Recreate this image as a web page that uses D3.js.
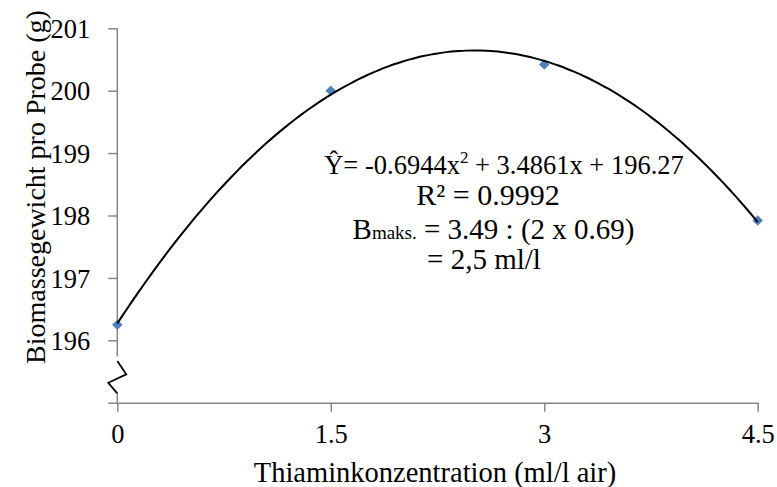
<!DOCTYPE html>
<html>
<head>
<meta charset="utf-8">
<script src="https://cdn.jsdelivr.net/npm/d3@7"></script>
<style>
  body { margin: 0; background: #fff; }
  svg text { font-family: "Liberation Serif", "Times New Roman", Times, serif; fill: #000; }
</style>
</head>
<body>
<div id="chart"></div>
<script>
// observed values
const konzentration = [0, 1.5, 3, 4.5]
const biomasse = [196.25, 200.0, 200.42, 197.92]
const xTicks = [0, 1.5, 3, 4.5]
const yTicks = [195, 196, 197, 198, 199, 200, 201]
// trendline coefficients from the equation (a x^2 + b x + c)
const koef = [-0.6944, 3.4861, 196.27]
const trendX = d3.range(0, 4.5001, 0.05)
// axis break (in y units)
const bruch = [195.67, 195.455, 195.32, 195.15]

const W = 777, H = 487
const serif = '"Liberation Serif", "Times New Roman", Times, serif'
const svg = d3.select("#chart").append("svg")
  .attr("width", W).attr("height", H)
  .attr("font-family", serif)

const x = d3.scaleLinear().domain([0, 4.5]).range([117.3, 757.7])
const y = d3.scaleLinear().domain([195, 201]).range([402.7, 28.3])

const grau = "#868686"

// y axis ticks + labels
const yAxis = svg.append("g")
  .attr("transform", `translate(${x(0)},0)`)
  .call(d3.axisLeft(y).tickValues(yTicks).tickSize(9).tickSizeOuter(0)
    .tickFormat(d => d == 195 ? "" : d))
yAxis.attr("font-family", serif).attr("font-size", 26.5)
yAxis.select(".domain").remove()
yAxis.selectAll(".tick line").attr("stroke", grau).attr("stroke-width", 1.5)
yAxis.selectAll(".tick text")
  .attr("x", -27).attr("dy", "0.35em")

// x axis
const xAxis = svg.append("g")
  .attr("transform", `translate(0,${y(195)})`)
  .call(d3.axisBottom(x).tickValues(xTicks).tickSize(9).tickSizeOuter(0)
    .tickFormat(d => d))
xAxis.attr("font-family", serif).attr("font-size", 26.5)
xAxis.select(".domain").attr("stroke", grau).attr("stroke-width", 1.5)
xAxis.selectAll(".tick line").attr("stroke", grau).attr("stroke-width", 1.5)
xAxis.selectAll(".tick text")
  .attr("y", 21).attr("dy", "0.71em")

// y axis line, broken
svg.append("line")
  .attr("x1", x(0)).attr("x2", x(0))
  .attr("y1", y(201)).attr("y2", y(195.74))
  .attr("stroke", grau).attr("stroke-width", 1.5)
svg.append("line")
  .attr("x1", x(0)).attr("x2", x(0))
  .attr("y1", y(bruch[3])).attr("y2", y(195))
  .attr("stroke", grau).attr("stroke-width", 1.5)
const off = [0, 9, -9, 0]
svg.append("path")
  .attr("d", d3.line()(bruch.map((b, i) => [x(0) + off[i], y(b)])))
  .attr("fill", "none").attr("stroke", "#000").attr("stroke-width", 1.8)

// points
svg.selectAll(".pt")
  .data(konzentration.map((k, i) => [k, biomasse[i]]))
  .join("path")
  .attr("class", "pt")
  .attr("d", d3.symbol(d3.symbolDiamond2, 70))
  .attr("transform", d => `translate(${x(d[0])},${y(d[1])})`)
  .attr("fill", "#4f81bd")

// trendline
const line = d3.line()
  .x(d => x(d))
  .y(d => y(koef[0] * d * d + koef[1] * d + koef[2]))
  .curve(d3.curveBasis)
svg.append("path")
  .attr("d", line(trendX))
  .attr("fill", "none").attr("stroke", "#000").attr("stroke-width", 2)

// annotation
const ann = svg.append("g")
const t1 = ann.append("text").attr("x", 504).attr("y", 174)
  .attr("text-anchor", "middle").attr("font-size", 26.5)
t1.append("tspan").text("Ŷ= -0.6944x")
t1.append("tspan").attr("dy", -11).attr("font-size", 17).text("2")
t1.append("tspan").attr("dy", 11).text(" + 3.4861x + 196.27")
ann.append("text").attr("x", 488).attr("y", 205)
  .attr("text-anchor", "middle").attr("font-size", 30)
  .text("R² = 0.9992")
const t3 = ann.append("text").attr("x", 493.5).attr("y", 239)
  .attr("text-anchor", "middle").attr("font-size", 29)
t3.append("tspan").text("B")
t3.append("tspan").attr("font-size", 19).text("maks.")
t3.append("tspan").text(" = 3.49 : (2 x 0.69)")
ann.append("text").attr("x", 484).attr("y", 269)
  .attr("text-anchor", "middle").attr("font-size", 29)
  .text("= 2,5 ml/l")

// axis titles
svg.append("text")
  .attr("x", 435).attr("y", 482)
  .attr("text-anchor", "middle").attr("font-size", 28.5)
  .text("Thiaminkonzentration (ml/l air)")
svg.append("text")
  .attr("transform", "translate(44.5,187) rotate(-90)")
  .attr("text-anchor", "middle").attr("font-size", 28)
  .text("Biomassegewicht pro Probe (g)")
</script>
</body>
</html>
